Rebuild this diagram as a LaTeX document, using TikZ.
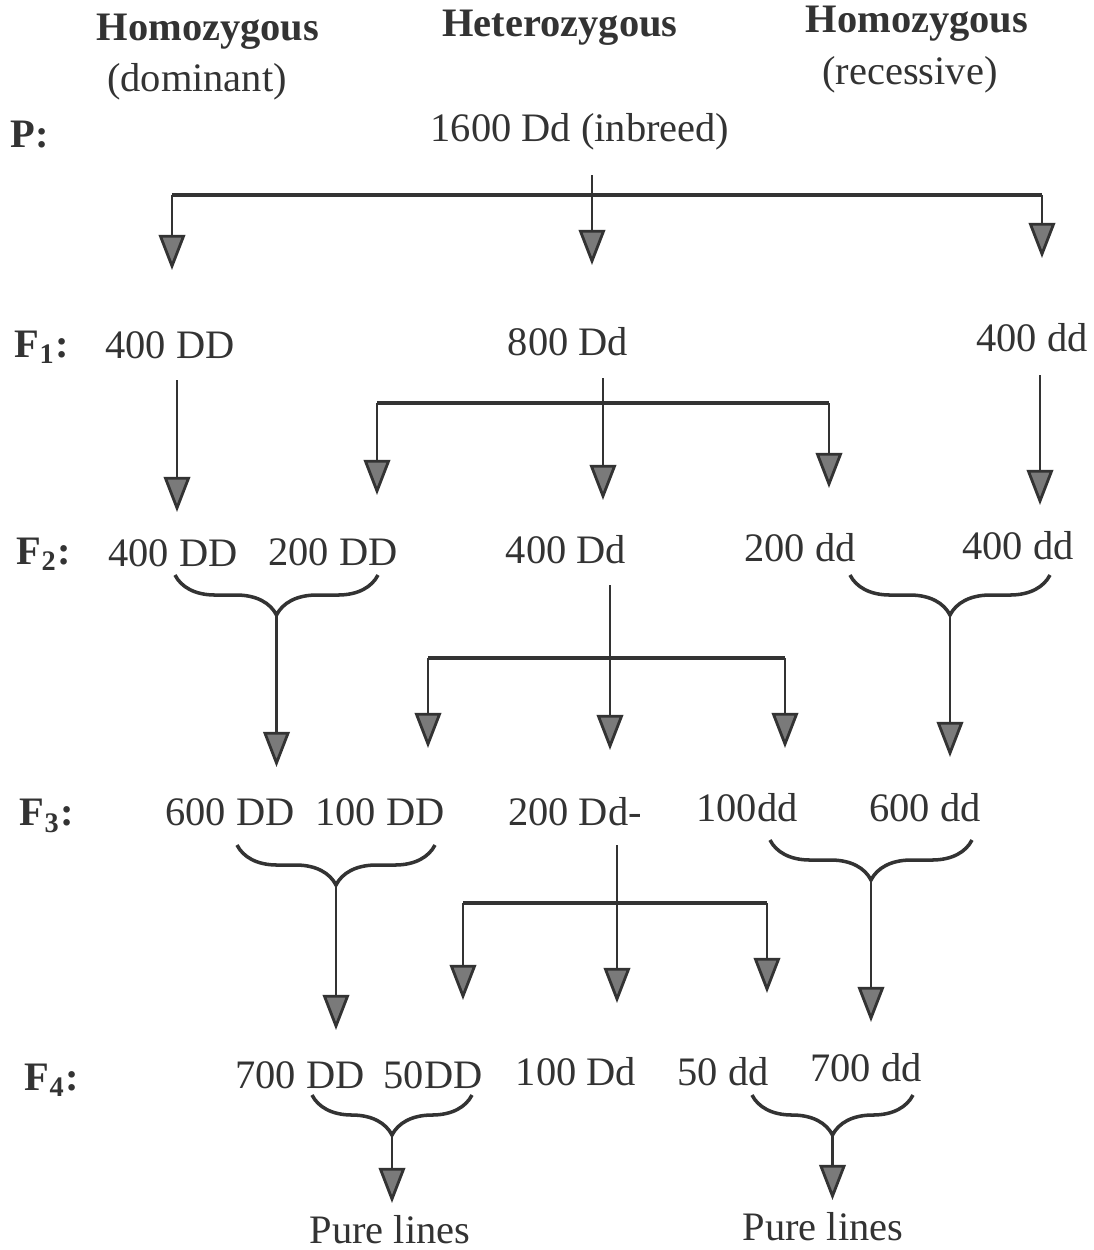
\documentclass[tikz,border=0pt]{standalone}
\usepackage{fontspec}
\setmainfont{Liberation Serif}
\usepackage{tikz}
\usetikzlibrary{
    arrows.meta,
    decorations.pathreplacing
}
\definecolor{ink}{HTML}{333333}
\definecolor{tipgray}{HTML}{7A7A7A}
\tikzset
{
  txt/.style={text=ink,font=\fontsize{11.5}{13}\selectfont,inner sep=0pt},
  head/.style={txt,font=\fontsize{11.5}{13}\selectfont\bfseries},
  stem/.style={draw=ink,line width=0.8pt},
  bar/.style={draw=ink,line width=1.3pt},
  arr/.style={stem,-{Triangle[width=7.5pt,length=10pt,fill=tipgray]}},
  brc/.style={draw=ink,line width=1pt,decorate,decoration={brace,mirror,amplitude=4mm,aspect=0.5}}
}

\begin{document}
\begin{tikzpicture}[x=0.01cm,y=-0.01cm]
        \useasboundingbox (0,0) rectangle (1094,1250);

        % Column headings
        \node[head] (hom1) at (208,32) {Homozygous};
        \node[txt] (dom) at (197,82) {(dominant)};
        \node[head] (het) at (560,28) {Heterozygous};
        \node[head] (hom2) at (917,24) {Homozygous};
        \node[txt] (rec) at (910,75) {(recessive)};

        % Generation labels
        \node[head] (gP) at (30,135) {P:};
        \node[head] (g1) at (42,347) {F\textsubscript{1}:};
        \node[head] (g2) at (44,554) {F\textsubscript{2}:};
        \node[head] (g3) at (47,816) {F\textsubscript{3}:};
        \node[head] (g4) at (52,1080) {F\textsubscript{4}:};

        % P
        \node[txt] (p) at (580,132) {1600 Dd (inbreed)};
        \coordinate (ptop) at (592,175);
        \coordinate (pL) at (172,195);
        \coordinate (pR) at (1042,195);
        \draw[bar] (pL) -- (pR);
        \draw[arr] (ptop) -- ++(0,90);
        \draw[arr] (pL) -- ++(0,75);
        \draw[arr] (pR) -- ++(0,63);

        % F1
        \node[txt] (a1) at (170,345) {400 DD};
        \node[txt] (b1) at (568,342) {800 Dd};
        \node[txt] (c1) at (1032,338) {400 dd};
        \coordinate (a1top) at (177,380);
        \coordinate (c1top) at (1040,375);
        \coordinate (b1top) at (603,378);
        \coordinate (b1L) at (377,403);
        \coordinate (b1R) at (829,403);
        \draw[arr] (a1top) -- ++(0,132);
        \draw[arr] (c1top) -- ++(0,130);
        \draw[bar] (b1L) -- (b1R);
        \draw[arr] (b1top) -- ++(0,122);
        \draw[arr] (b1L) -- ++(0,92);
        \draw[arr] (b1R) -- ++(0,85);

        % F2
        \node[txt] (a2) at (173,553) {400 DD};
        \node[txt] (a2b) at (333,552) {200 DD};
        \node[txt] (b2) at (566,550) {400 Dd};
        \node[txt] (c2b) at (800,548) {200 dd};
        \node[txt] (c2) at (1018,546) {400 dd};
        \coordinate (a2s) at (175,575);
        \coordinate (a2e) at (378,575);
        \coordinate (a2tip) at (276.5,615);
        \coordinate (c2s) at (850,575);
        \coordinate (c2e) at (1050,575);
        \coordinate (c2tip) at (950,615);
        \draw[brc] (a2s) -- (a2e);
        \draw[brc] (c2s) -- (c2e);
        \draw[arr] (a2tip) -- ++(0,152);
        \draw[arr] (c2tip) -- ++(0,142);
        \coordinate (b2top) at (610,585);
        \coordinate (b2L) at (428,658);
        \coordinate (b2R) at (785,658);
        \draw[bar] (b2L) -- (b2R);
        \draw[arr] (b2top) -- ++(0,165);
        \draw[arr] (b2L) -- ++(0,90);
        \draw[arr] (b2R) -- ++(0,90);

        % F3
        \node[txt] (a3) at (230,812) {600 DD};
        \node[txt] (a3b) at (380,812) {100 DD};
        \node[txt] (b3) at (575,812) {200 Dd-};
        \node[txt] (c3b) at (747,808) {100dd};
        \node[txt] (c3) at (925,808) {600 dd};
        \coordinate (a3s) at (237,845);
        \coordinate (a3e) at (435,845);
        \coordinate (a3tip) at (336,885);
        \coordinate (c3s) at (770,840);
        \coordinate (c3e) at (972,840);
        \coordinate (c3tip) at (871,880);
        \draw[brc] (a3s) -- (a3e);
        \draw[brc] (c3s) -- (c3e);
        \draw[arr] (a3tip) -- ++(0,145);
        \draw[arr] (c3tip) -- ++(0,142);
        \coordinate (b3top) at (617,845);
        \coordinate (b3L) at (463,903);
        \coordinate (b3R) at (767,903);
        \draw[bar] (b3L) -- (b3R);
        \draw[arr] (b3top) -- ++(0,158);
        \draw[arr] (b3L) -- ++(0,97);
        \draw[arr] (b3R) -- ++(0,90);

        % F4
        \node[txt] (a4) at (300,1075) {700 DD};
        \node[txt] (a4b) at (433,1075) {50DD};
        \node[txt] (b4) at (576,1072) {100 Dd};
        \node[txt] (c4b) at (723,1072) {50 dd};
        \node[txt] (c4) at (866,1068) {700 dd};
        \coordinate (a4s) at (312,1095);
        \coordinate (a4e) at (472,1095);
        \coordinate (a4tip) at (392,1132);
        \coordinate (c4s) at (752,1095);
        \coordinate (c4e) at (913,1095);
        \coordinate (c4tip) at (832.5,1132);
        \draw[brc] (a4s) -- (a4e);
        \draw[brc] (c4s) -- (c4e);

        % Pure lines
        \node[txt] (pl1) at (390,1230) {Pure lines};
        \node[txt] (pl2) at (823,1227) {Pure lines};
        \draw[arr] (a4tip) -- (a4tip |- 0,1203);
        \draw[arr] (c4tip) -- (c4tip |- 0,1200);
    \end{tikzpicture}
\end{document}
